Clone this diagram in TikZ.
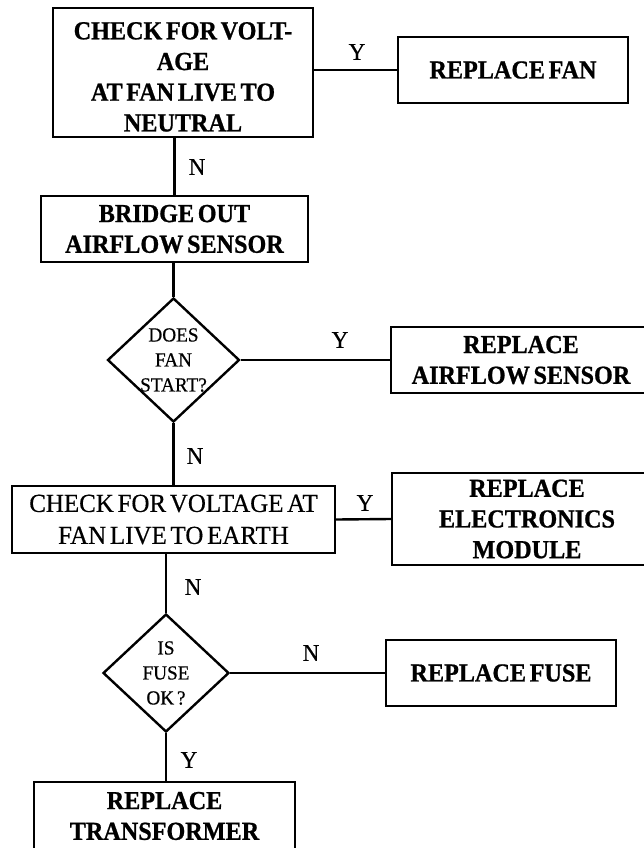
\documentclass[tikz,border=0pt]{standalone}
\usepackage{fontspec}
\setmainfont{Liberation Serif}
\newfontfamily\flowfamily{Liberation Serif}[FakeStretch=0.93, WordSpace=0.6,
  UprightFeatures={FakeBold=0.5}, BoldFeatures={FakeBold=0.8}]
\newfontfamily\plainfamily{Liberation Serif}[FakeStretch=0.96, WordSpace=0.6,
  FakeBold=0.5]
\usepackage{tikz}
\usetikzlibrary{shapes.geometric}

\newcommand{\bxfont}{\flowfamily\bfseries\fontsize{26}{30.7}\selectfont}
\newcommand{\txfont}{\plainfamily\fontsize{26}{32}\selectfont}
\newcommand{\qfont}{\plainfamily\fontsize{20}{25}\selectfont}
\newcommand{\ynfont}{\plainfamily\fontsize{24}{28}\selectfont}

\tikzset{
  box/.style={draw, line width=2.4pt, inner sep=0pt, align=center},
  action/.style={box, font=\bxfont},
  check/.style={box, font=\txfont},
  decision/.style={draw, diamond, line width=2.4pt, inner sep=0pt},
  question/.style={font=\qfont, align=center, inner sep=0pt},
  link/.style={line width=2.4pt},
  answer/.style={font=\ynfont, inner sep=0pt},
}

\begin{document}
\begin{tikzpicture}[x=1pt, y=-1pt]
    \useasboundingbox (0,0) rectangle (644,848);
    \clip (0,0) rectangle (644,848);

    % main column
    \node[action, minimum width=260pt, minimum height=129pt] (chkneutral) at (183,72.5)
      {\rule{0pt}{26pt}CHECK FOR VOLT-\\AGE\\AT FAN LIVE TO\\NEUTRAL};
    \node[action, minimum width=267pt, minimum height=66pt] (bridge) at (174.5,229)
      {BRIDGE OUT\\AIRFLOW SENSOR};
    \node[decision, minimum width=132pt, minimum height=124pt] (fanstart) at (173.5,360) {};
    \node[question] (fanstartq) at (fanstart) {DOES\\FAN\\START?};
    \node[check, minimum width=323pt, minimum height=67pt] (chkearth) at (173.5,519.5)
      {CHECK FOR VOLTAGE AT\\FAN LIVE TO EARTH};
    \node[decision, minimum width=126pt, minimum height=118pt] (fuseok) at (166,673) {};
    \node[question] (fuseokq) at (fuseok) {IS\\FUSE\\OK ?};
    \node[action, minimum width=261pt, minimum height=68pt] (xfmr) at (164.5,816)
      {REPLACE\\TRANSFORMER};

    % right column
    \node[action, minimum width=230pt, minimum height=66pt] (fan) at (513,70)
      {REPLACE FAN};
    \node[action, minimum width=260pt, minimum height=66pt] (airflow) at (521,360)
      {REPLACE\\AIRFLOW SENSOR};
    \node[action, minimum width=270pt, minimum height=92pt] (elec) at (527,519)
      {REPLACE\\ELECTRONICS\\MODULE};
    \node[action, minimum width=230pt, minimum height=66pt] (fuse) at (501,673)
      {REPLACE FUSE};

    % connectors
    \draw[link] (chkneutral.east |- fan.west) -- (fan.west);
    \draw[link] (bridge.north |- chkneutral.south) -- (bridge.north);
    \draw[link] (fanstart.north |- bridge.south) -- (fanstart.north);
    \draw[link] (fanstart.east) -- (airflow.west);
    \draw[link] (fanstart.south) -- (fanstart.south |- chkearth.north);
    \draw[link] (chkearth.east) -- (elec.west);
    \draw[link] (fuseok.north |- chkearth.south) -- (fuseok.north);
    \draw[link] (fuseok.east) -- (fuse.west);
    \draw[link] (fuseok.south) -- (fuseok.south |- xfmr.north);

    % answers
    \node[answer] (ans1) at (357,52) {Y};
    \node[answer] (ans2) at (197,167) {N};
    \node[answer] (ans3) at (340,340) {Y};
    \node[answer] (ans4) at (195,456) {N};
    \node[answer] (ans5) at (365,503) {Y};
    \node[answer] (ans6) at (193,587) {N};
    \node[answer] (ans7) at (311,653) {N};
    \node[answer] (ans8) at (189,760) {Y};
\end{tikzpicture}
\end{document}
